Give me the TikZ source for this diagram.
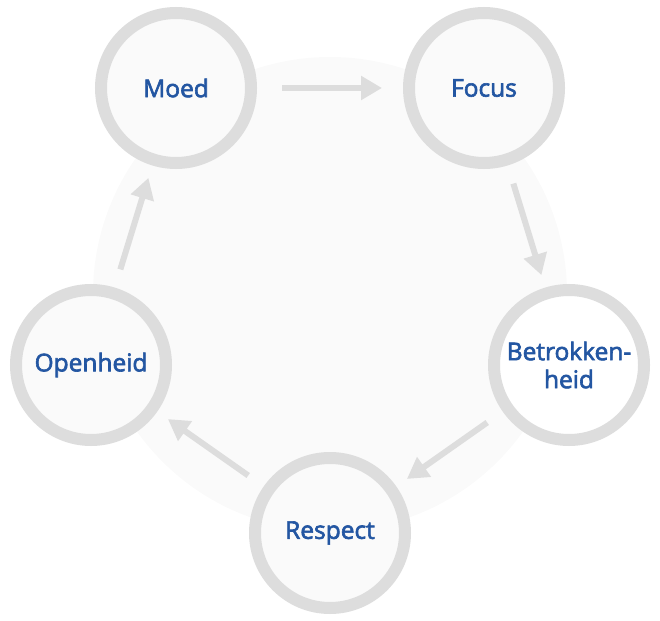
\documentclass[tikz,border=0pt]{standalone}
\usepackage{fontspec}
\newfontfamily\valuefont{Open Sans}[FakeBold=2.5]
\usetikzlibrary{arrows.meta}
\definecolor{ringgray}{HTML}{DDDDDD}
\definecolor{cellfill}{HTML}{FAFAFA}
\definecolor{txtblue}{HTML}{2356A2}

\begin{document}
\begin{tikzpicture}[x=1pt,y=-1pt,
    value/.style={circle,draw=ringgray,line width=12pt,fill=cellfill,
      minimum size=150pt,inner sep=0pt,outer sep=0pt,text=txtblue,
      font=\valuefont\fontsize{24.5}{28}\selectfont,align=center},
    flow/.style={draw=ringgray,line width=6pt,
      -{Triangle[length=21pt,width=23pt]},shorten <=25pt,shorten >=19pt}]
  \useasboundingbox (0,0) rectangle (660,620);
  % Pale disc behind the cycle
  \fill[cellfill] (330,294) circle (237);
  % Values
  \node[value] (moed)  at (176,88)  {Moed};
  \node[value] (focus) at (484,88)  {Focus};
  \node[value,fill=white] (betr) at (569,365) {Betrokken-\\heid};
  \node[value] (resp)  at (330,533) {Respect};
  \node[value] (open)  at (91,365)  {Openheid};
  % Cycle
  \draw[flow,shorten <=31pt,shorten >=27pt] (moed) -- (focus);
  \draw[flow] (focus) -- (betr);
  \draw[flow] (betr) -- (resp);
  \draw[flow] (resp) -- (open);
  \draw[flow] (open) -- (moed);
\end{tikzpicture}
\end{document}
